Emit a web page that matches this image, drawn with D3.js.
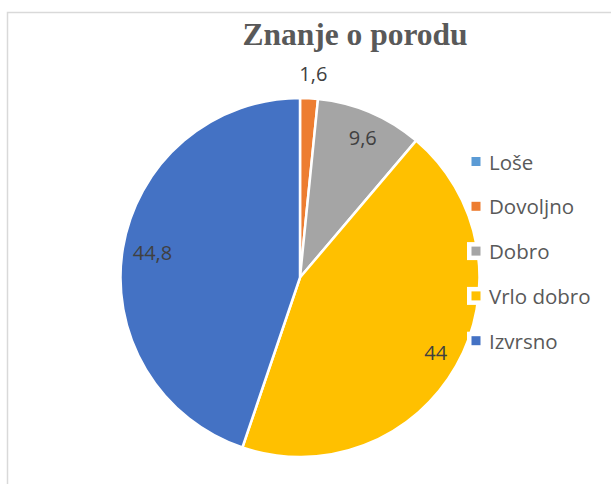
<!DOCTYPE html>
<html>
<head>
<meta charset="utf-8">
<script src="https://cdn.jsdelivr.net/npm/d3@7"></script>
<style>
    body { margin: 0; background: #fff; }
    #chart-area { width: 611px; height: 484px; }
</style>
</head>
<body>
<div id="chart-area"></div>
<script>
// chart data
let categories = ["Loše", "Dovoljno", "Dobro", "Vrlo dobro", "Izvrsno"];
let values = [0, 1.6, 9.6, 44, 44.8];
let labels = ["0", "1,6", "9,6", "44", "44,8"];
let colors = ["#5B9BD5", "#ED7D31", "#A5A5A5", "#FFC000", "#4472C4"];
let title = "Znanje o porodu";

let width = 611,
    height = 484;

let svg = d3.select("#chart-area").append("svg")
    .attr("width", width)
    .attr("height", height);

// chart frame (runs off the right and bottom edge)
svg.append("rect")
    .attr("x", 7.5)
    .attr("y", 12.5)
    .attr("width", 700)
    .attr("height", 600)
    .attr("fill", "none")
    .attr("stroke", "#d9d9d9")
    .attr("stroke-width", 1.5);

// title
svg.append("text")
    .attr("x", 355)
    .attr("y", 45)
    .attr("text-anchor", "middle")
    .attr("font-family", "'Liberation Serif', 'Times New Roman', serif")
    .attr("font-weight", "bold")
    .attr("font-size", "31.5px")
    .attr("fill", "#595959")
    .text(title);

// pie
let cx = 300, cy = 277.5, radius = 179.5;

let data = categories.map((c, i) => ({name: c, value: values[i], label: labels[i], color: colors[i]}));

let pie = d3.pie()
    .sort(null)
    .value(d => d.value);

let arc = d3.arc()
    .innerRadius(0)
    .outerRadius(radius);

let arcInside = d3.arc()
    .innerRadius(radius * 0.85)
    .outerRadius(radius * 0.85);

let arcOutside = d3.arc()
    .innerRadius(radius * 1.14)
    .outerRadius(radius * 1.14);

let g = svg.append("g")
    .attr("transform", `translate(${cx}, ${cy})`);

let arcs = pie(data);

g.selectAll(".slice")
    .data(arcs)
    .enter().append("path")
    .attr("class", "slice")
    .attr("d", arc)
    .attr("fill", d => d.data.color)
    .attr("stroke", "#fff")
    .attr("stroke-width", 2.5)
    .attr("stroke-linejoin", "round");

// data labels, small slices go outside
g.selectAll(".label")
    .data(arcs.filter(d => d.data.value > 0))
    .enter().append("text")
    .attr("class", "label")
    .attr("transform", d => {
        let p = d.data.value < 5 ? arcOutside.centroid(d) : arcInside.centroid(d);
        return `translate(${p[0] + 3}, ${p[1]})`;
    })
    .attr("text-anchor", "middle")
    .attr("dominant-baseline", "central")
    .attr("font-family", "'Open Sans', sans-serif")
    .attr("font-size", "20px")
    .attr("fill", "#404040")
    .text(d => d.data.label);

// legend
let legendY = d3.scalePoint()
    .domain(categories)
    .range([161.5, 340.7]);

let legend = svg.append("g");

let items = legend.selectAll(".legend-item")
    .data(data)
    .enter().append("g")
    .attr("class", "legend-item")
    .attr("transform", d => `translate(476, ${legendY(d.name)})`);

items.append("rect")
    .attr("x", -9)
    .attr("y", -9)
    .attr("width", 18)
    .attr("height", 18)
    .attr("fill", "#fff");

items.append("rect")
    .attr("x", -4.5)
    .attr("y", -4.5)
    .attr("width", 9)
    .attr("height", 9)
    .attr("fill", d => d.color);

items.append("text")
    .attr("x", 13)
    .attr("y", 0)
    .attr("dominant-baseline", "central")
    .attr("font-family", "'Open Sans', sans-serif")
    .attr("font-size", "20.5px")
    .attr("fill", "#595959")
    .text(d => d.name);
</script>
</body>
</html>
